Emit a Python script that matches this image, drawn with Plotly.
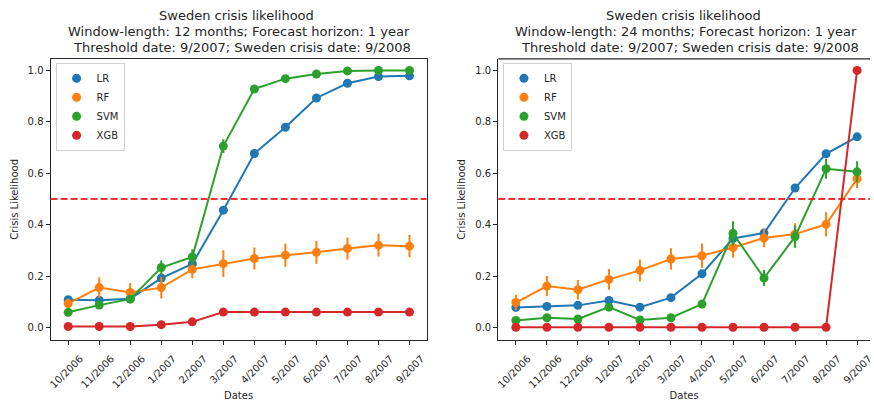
import plotly.graph_objects as go

W, H = 874, 401

dates = ["10/2006", "11/2006", "12/2006", "1/2007", "2/2007", "3/2007",
         "4/2007", "5/2007", "6/2007", "7/2007", "8/2007", "9/2007"]
models = ["LR", "RF", "SVM", "XGB"]
colors = ["#1f77b4", "#ff7f0e", "#2ca02c", "#d62728"]

# Window-length 12 months
lr_12 = [0.109, 0.107, 0.113, 0.193, 0.248, 0.457, 0.677, 0.779, 0.893, 0.950, 0.976, 0.979]
rf_12 = [0.094, 0.156, 0.137, 0.156, 0.227, 0.249, 0.269, 0.282, 0.293, 0.308, 0.321, 0.317]
svm_12 = [0.060, 0.088, 0.111, 0.234, 0.275, 0.706, 0.928, 0.968, 0.986, 0.998, 1.000, 1.000]
xgb_12 = [0.005, 0.005, 0.005, 0.012, 0.023, 0.061, 0.061, 0.061, 0.061, 0.061, 0.061, 0.061]
lr_12_err = [0.005, 0.004, 0.004, 0.008, 0.008, 0.010, 0.006, 0.005, 0.004, 0.003, 0.002, 0.002]
rf_12_err = [0.020, 0.039, 0.037, 0.042, 0.035, 0.052, 0.043, 0.045, 0.044, 0.043, 0.044, 0.043]
svm_12_err = [0.005, 0.006, 0.006, 0.028, 0.030, 0.027, 0.006, 0.004, 0.003, 0.002, 0.001, 0.001]
xgb_12_err = [0, 0, 0, 0, 0, 0, 0, 0, 0, 0, 0, 0]

# Window-length 24 months
lr_24 = [0.079, 0.083, 0.087, 0.106, 0.080, 0.117, 0.210, 0.347, 0.368, 0.543, 0.676, 0.742]
rf_24 = [0.098, 0.162, 0.148, 0.188, 0.223, 0.267, 0.280, 0.312, 0.349, 0.364, 0.402, 0.579]
svm_24 = [0.028, 0.039, 0.034, 0.080, 0.030, 0.039, 0.092, 0.367, 0.193, 0.354, 0.618, 0.606]
xgb_24 = [0.002, 0.002, 0.002, 0.002, 0.002, 0.002, 0.002, 0.002, 0.002, 0.002, 0.002, 1.000]
lr_24_err = [0.004, 0.004, 0.004, 0.006, 0.005, 0.006, 0.008, 0.010, 0.015, 0.008, 0.006, 0.005]
rf_24_err = [0.030, 0.039, 0.038, 0.040, 0.042, 0.042, 0.047, 0.039, 0.036, 0.042, 0.047, 0.036]
svm_24_err = [0.005, 0.006, 0.006, 0.010, 0.005, 0.006, 0.012, 0.047, 0.031, 0.043, 0.039, 0.041]
xgb_24_err = [0, 0, 0, 0, 0, 0, 0, 0, 0, 0, 0, 0]

threshold = 0.5

titles_12 = ["Sweden crisis likelihood",
             "Window-length: 12 months; Forecast horizon: 1 year",
             "Threshold date: 9/2007; Sweden crisis date: 9/2008"]
titles_24 = ["Sweden crisis likelihood",
             "Window-length: 24 months; Forecast horizon: 1 year",
             "Threshold date: 9/2007; Sweden crisis date: 9/2008"]

FONT = "DejaVu Sans"
TXT = "#262626"
FS = 10

fig = go.Figure()

panels = [
    ([lr_12, rf_12, svm_12, xgb_12], [lr_12_err, rf_12_err, svm_12_err, xgb_12_err], "x", "y", "legend"),
    ([lr_24, rf_24, svm_24, xgb_24], [lr_24_err, rf_24_err, svm_24_err, xgb_24_err], "x2", "y2", "legend2"),
]

for series, errs, xa, ya, lg in panels:
    for name, vals, err, col in zip(models, series, errs, colors):
        fig.add_trace(go.Scatter(
            x=dates, y=vals, xaxis=xa, yaxis=ya, mode="lines+markers",
            line=dict(color=col, width=2),
            marker=dict(color=col, size=9),
            error_y=dict(type="data", array=err, visible=True, color=col, thickness=2, width=0),
            showlegend=False, hoverinfo="skip",
        ))
    for name, col in zip(models, colors):
        fig.add_trace(go.Scatter(
            x=[None], y=[None], xaxis=xa, yaxis=ya, mode="markers",
            marker=dict(color=col, size=9), name=name, legend=lg, showlegend=True,
        ))

def px_x(p):
    return p / W

def px_y(p):
    return 1 - p / H

ydom = [px_y(340.7), px_y(59)]
xdom1 = [px_x(48), px_x(427)]
xdom2 = [px_x(499.3), 1.0]

axis_common = dict(
    showline=True, linecolor="#262626", linewidth=1.2,
    ticks="outside", ticklen=4, tickwidth=1, tickcolor="#262626",
    showgrid=False, zeroline=False,
    tickfont=dict(family=FONT, size=FS, color=TXT),
)

xaxis_extra = dict(type="category", tickangle=-45, ticklabelshift=12, ticklabelstandoff=4,
                   title=dict(text="Dates", font=dict(family=FONT, size=FS, color=TXT), standoff=4))
yaxis_extra = dict(range=[-0.047, 1.045], tickformat=".1f", dtick=0.2,
                   title=dict(text="Crisis Likelihood", font=dict(family=FONT, size=FS, color=TXT), standoff=7))

legend_common = dict(xanchor="left", yanchor="top",
                     bgcolor="rgba(255,255,255,0.8)", bordercolor="#d0d0d0", borderwidth=1,
                     font=dict(family=FONT, size=FS, color=TXT), itemwidth=30)

fig.update_layout(
    width=W, height=H,
    margin=dict(l=0, r=0, t=0, b=0),
    paper_bgcolor="white", plot_bgcolor="white",
    font=dict(family=FONT, size=FS, color=TXT),
    xaxis=dict(domain=xdom1, anchor="y", range=[-0.566, 11.55], mirror=True,
               **xaxis_extra, **axis_common),
    yaxis=dict(domain=ydom, anchor="x", mirror=True, **yaxis_extra, **axis_common),
    xaxis2=dict(domain=xdom2, anchor="y2", range=[-0.566, 11.416], mirror=False,
                **xaxis_extra, **axis_common),
    yaxis2=dict(domain=ydom, anchor="x2", mirror=False, **yaxis_extra, **axis_common),
    legend=dict(x=px_x(53), y=px_y(63), **legend_common),
    legend2=dict(x=px_x(504), y=px_y(63), **legend_common),
    showlegend=True,
)

# threshold lines
for xr, yr in [("x domain", "y"), ("x2 domain", "y2")]:
    fig.add_shape(type="line", xref=xr, yref=yr, x0=0, x1=1, y0=threshold, y1=threshold,
                  line=dict(color="rgba(235,30,30,0.9)", width=2, dash="7px,3px"))

# top spine of the right panel (right spine falls outside the window)
fig.add_shape(type="line", xref="x2 domain", yref="y2 domain", x0=0, x1=1, y0=1, y1=1,
              line=dict(color="#262626", width=1.2))

# titles (each line centred as in the original, with its slight offsets)
line_offsets = [-2.5, 0.3, 3.8]
for lines, cx in [(titles_12, (48 + 427) / 2), (titles_24, 688.6)]:
    for i, t in enumerate(lines):
        fig.add_annotation(text=t, xref="paper", yref="paper",
                           x=px_x(cx + line_offsets[i]), y=px_y(15.5 + 16.2 * i),
                           xanchor="center", yanchor="middle", showarrow=False,
                           font=dict(family=FONT, size=13, color=TXT))

fig.write_html("out.html", config={"displayModeBar": False},
               post_script="document.body.style.margin='0';document.body.style.overflow='hidden';")
